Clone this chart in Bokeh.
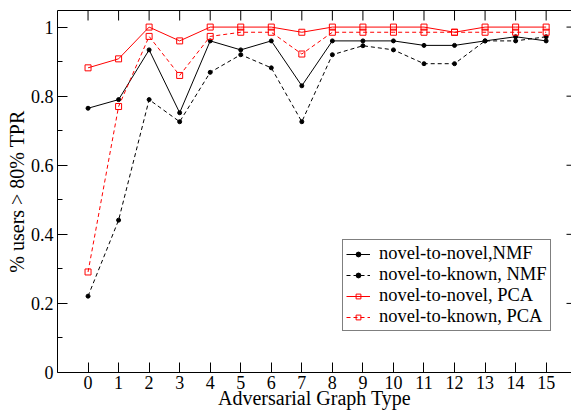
import math
from bokeh.plotting import figure
from bokeh.models import (LinearAxis, FixedTicker, Legend, LegendItem, Range1d)
from bokeh.embed import file_html
from bokeh.resources import INLINE

# ---- data ----
graph_types = list(range(16))
nmf_novel_to_novel = [0.765, 0.790, 0.934, 0.752, 0.960, 0.934, 0.960, 0.830,
                      0.960, 0.960, 0.960, 0.947, 0.947, 0.960, 0.972, 0.960]
nmf_novel_to_known = [0.221, 0.441, 0.790, 0.726, 0.869, 0.920, 0.882, 0.726,
                      0.920, 0.946, 0.934, 0.894, 0.894, 0.960, 0.960, 0.972]
pca_novel_to_novel = [0.882, 0.908, 1.000, 0.960, 1.000, 1.000, 1.000, 0.985,
                      1.000, 1.000, 1.000, 1.000, 0.985, 1.000, 1.000, 1.000]
pca_novel_to_known = [0.291, 0.770, 0.973, 0.860, 0.973, 0.985, 0.985, 0.922,
                      0.985, 0.985, 0.985, 0.985, 0.985, 0.985, 0.985, 0.985]
series_labels = ["novel-to-novel,NMF", "novel-to-known, NMF",
                 "novel-to-novel, PCA", "novel-to-known, PCA"]
y_ticks = [0, 0.2, 0.4, 0.6, 0.8, 1.0]
y_tick_labels = ["0", "0.2", "0.4", "0.6", "0.8", "1"]
y_minor = [0.1, 0.3, 0.5, 0.7, 0.9]

FONT = "Liberation Serif"
X0, X1 = -1, 15.83
Y0, Y1 = 0, 1.048

p = figure(width=571, height=412, output_backend="svg", toolbar_location=None,
           x_range=Range1d(X0, X1), y_range=Range1d(Y0, Y1),
           min_border_left=57, min_border_right=0, min_border_top=10,
           min_border_bottom=40, x_axis_location=None, y_axis_location=None)
p.xgrid.visible = False
p.ygrid.visible = False
p.outline_line_color = None
p.background_fill_color = "white"
p.border_fill_color = "white"

xt = FixedTicker(ticks=graph_types, minor_ticks=[])
yt = FixedTicker(ticks=y_ticks, minor_ticks=y_minor)


def style(ax):
    ax.axis_line_color = "black"
    ax.axis_line_width = 1
    ax.major_tick_line_color = "black"
    ax.minor_tick_line_color = "black"
    ax.major_tick_in = 10
    ax.major_tick_out = 0
    ax.minor_tick_in = 5
    ax.minor_tick_out = 0
    ax.major_label_text_font = FONT
    ax.major_label_text_font_size = "18px"
    ax.major_label_text_color = "black"
    ax.axis_label_text_font = FONT
    ax.axis_label_text_font_style = "normal"
    ax.axis_label_text_font_size = "20px"
    ax.axis_label_text_color = "black"


xb = LinearAxis(ticker=xt, axis_label="Adversarial Graph Type")
style(xb)
xb.major_label_standoff = 3
xb.axis_label_standoff = -5
p.add_layout(xb, "below")

# top frame line (no ticks/labels; ticks drawn below as marks)
xa = LinearAxis(ticker=FixedTicker(ticks=[], minor_ticks=[]))
style(xa)
xa.major_label_standoff = 0
p.add_layout(xa, "above")

yl = LinearAxis(ticker=yt, axis_label="% users > 80% TPR")
style(yl)
yl.major_label_overrides = {v: s for v, s in zip(y_ticks, y_tick_labels)}
yl.major_label_standoff = 4
yl.axis_label_standoff = 0
p.add_layout(yl, "left")

# inward ticks on the top and right edges (half of each dash is clipped)
p.scatter(graph_types, [Y1] * len(graph_types), marker="dash", size=20,
          angle=math.pi / 2, line_color="black", line_width=1)
p.scatter([X1] * len(y_ticks), y_ticks, marker="dash", size=10,
          line_color="black", line_width=1)

DASH = "4 3"
r1l = p.line(graph_types, nmf_novel_to_novel, line_color="black", line_width=1)
r1s = p.scatter(graph_types, nmf_novel_to_novel, marker="circle", size=4,
                fill_color="black", line_color="black")
r2l = p.line(graph_types, nmf_novel_to_known, line_color="black", line_width=1,
             line_dash=DASH)
r2s = p.scatter(graph_types, nmf_novel_to_known, marker="circle", size=4,
                fill_color="black", line_color="black")
r3l = p.line(graph_types, pca_novel_to_novel, line_color="red", line_width=1)
r3s = p.scatter(graph_types, pca_novel_to_novel, marker="square", size=6,
                fill_color=None, line_color="red", line_width=1)
r4l = p.line(graph_types, pca_novel_to_known, line_color="red", line_width=1,
             line_dash=DASH)
r4s = p.scatter(graph_types, pca_novel_to_known, marker="square", size=6,
                fill_color=None, line_color="red", line_width=1)

items = [LegendItem(label=series_labels[0], renderers=[r1l, r1s]),
         LegendItem(label=series_labels[1], renderers=[r2l, r2s]),
         LegendItem(label=series_labels[2], renderers=[r3l, r3s]),
         LegendItem(label=series_labels[3], renderers=[r4l, r4s])]
legend = Legend(items=items, location=(285, 41))
legend.label_text_font = FONT
legend.label_text_font_size = "18.5px"
legend.label_text_color = "black"
legend.glyph_width = 24
legend.glyph_height = 12
legend.label_height = 19
legend.label_standoff = 9
legend.spacing = 0
legend.padding = 3
legend.margin = 0
legend.border_line_color = "black"
legend.border_line_width = 1
legend.background_fill_color = "white"
legend.background_fill_alpha = 1
p.add_layout(legend, "center")

open("out.html", "w").write(file_html(p, INLINE))
